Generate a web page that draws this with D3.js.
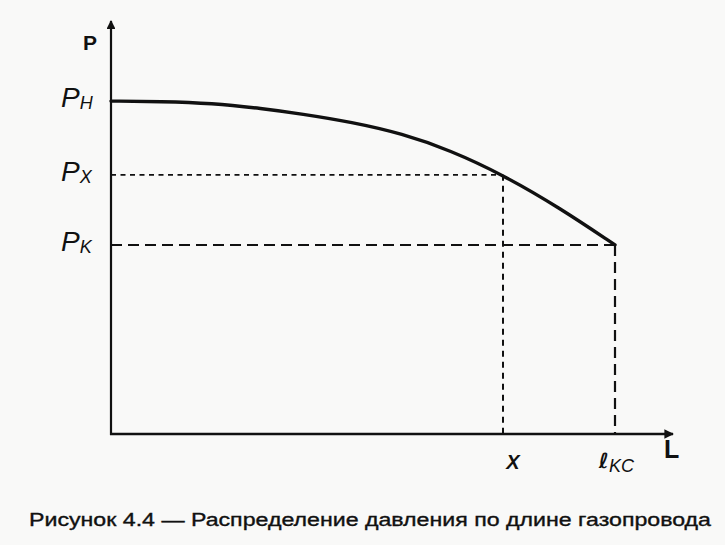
<!DOCTYPE html>
<html><head><meta charset="utf-8">
<script src="https://cdn.jsdelivr.net/npm/d3@7/dist/d3.min.js"></script>
<style>
html,body{margin:0;padding:0;background:#f9f9f8;}
svg{display:block;}
</style></head>
<body>
<script>
// Data (arbitrary units: length 0..100, pressure 0..100)
const lengths   = [0, 9, 18, 27, 34, 43, 52, 60.5, 70, 80, 90];
const pressures = [80.8, 80.7, 80.3, 79.0, 77.7, 75.7, 72.9, 68.9, 62.9, 55.0, 45.9];
const pH = 80.8, pX = 62.9, pK = 45.9;
const xMark = 70, lKC = 90;
const yLabels = [{v: pH, main: "P", sub: "H"}, {v: pX, main: "P", sub: "X"}, {v: pK, main: "P", sub: "K"}];
const caption = "Рисунок 4.4 — Распределение давления по длине газопровода";

const W = 725, H = 545;
const svg = d3.select("body").append("svg").attr("width", W).attr("height", H);
const x = d3.scaleLinear().domain([0, 100]).range([111, 671]);
const y = d3.scaleLinear().domain([0, 100]).range([434, 22]);

const defs = svg.append("defs");
defs.append("marker").attr("id", "arr").attr("viewBox", "0 0 10 10")
  .attr("refX", 9).attr("refY", 5).attr("markerWidth", 4.5).attr("markerHeight", 4)
  .attr("markerUnits", "strokeWidth").attr("orient", "auto")
  .append("path").attr("d", "M0,0 L10,5 L0,10 Z").attr("fill", "#111");

const ink = "#111";
// dashed guides
svg.append("line").attr("x1", x(0)).attr("x2", x(xMark)).attr("y1", y(pX)).attr("y2", y(pX))
  .attr("stroke", ink).attr("stroke-width", 1.8).attr("stroke-dasharray", "5,4.5");
svg.append("line").attr("x1", x(0)).attr("x2", x(lKC)).attr("y1", y(pK)).attr("y2", y(pK))
  .attr("stroke", ink).attr("stroke-width", 2).attr("stroke-dasharray", "11,6");
svg.append("line").attr("x1", x(xMark)).attr("x2", x(xMark)).attr("y1", y(pX)).attr("y2", y(0))
  .attr("stroke", ink).attr("stroke-width", 2).attr("stroke-dasharray", "6,5");
svg.append("line").attr("x1", x(lKC)).attr("x2", x(lKC)).attr("y1", y(pK)).attr("y2", y(0))
  .attr("stroke", ink).attr("stroke-width", 2.2).attr("stroke-dasharray", "11,6");

// axes
svg.append("line").attr("x1", x(0)).attr("x2", x(0)).attr("y1", y(0) + 1).attr("y2", y(100) - 1)
  .attr("stroke", ink).attr("stroke-width", 2.2).attr("marker-end", "url(#arr)");
svg.append("line").attr("x1", x(0) - 1).attr("x2", x(100) + 2).attr("y1", y(0)).attr("y2", y(0))
  .attr("stroke", ink).attr("stroke-width", 2.4).attr("marker-end", "url(#arr)");

// curve
const pts = lengths.map((l, i) => [l, pressures[i]]);
svg.append("path").datum(pts)
  .attr("d", d3.line().x(d => x(d[0])).y(d => y(d[1])).curve(d3.curveBasis))
  .attr("fill", "none").attr("stroke", ink).attr("stroke-width", 3.4).attr("stroke-linecap", "round");

const font = "'Liberation Sans', Arial, sans-serif";
// axis titles
svg.append("text").attr("x", 83).attr("y", 50).attr("font-family", font).attr("font-weight", "bold")
  .attr("font-size", 21).attr("fill", ink).text("P");
svg.append("text").attr("x", 664).attr("y", 458).attr("font-family", font).attr("font-weight", "bold")
  .attr("font-size", 25).attr("fill", ink).text("L");

// y labels
yLabels.forEach(d => {
  const t = svg.append("text").attr("x", 61).attr("y", y(d.v) + 6).attr("font-family", font)
    .attr("font-style", "italic").attr("fill", ink);
  t.append("tspan").attr("font-size", 28).text(d.main);
  t.append("tspan").attr("font-size", 18).attr("dy", 2).attr("dx", 0).text(d.sub);
});

// x labels
svg.append("text").attr("x", x(xMark) + 10).attr("y", 469).attr("text-anchor", "middle")
  .attr("font-family", font).attr("font-style", "italic").attr("font-weight", "bold")
  .attr("font-size", 20).attr("fill", ink).text("X");
const lt = svg.append("text").attr("x", 599).attr("y", 468).attr("font-family", "'DejaVu Sans', sans-serif")
  .attr("font-style", "italic").attr("font-weight", "bold").attr("fill", ink);
lt.append("tspan").attr("font-size", 21).text("ℓ");
lt.append("tspan").attr("font-size", 18).attr("font-family", font).attr("font-weight", "normal").attr("dy", 4).attr("dx", 0).text("KC");

// caption
svg.append("text").attr("x", 29).attr("y", 526).attr("font-family", font)
  .attr("font-size", 18).attr("fill", ink).attr("stroke", ink).attr("stroke-width", 0.35)
  .attr("textLength", 682).attr("lengthAdjust", "spacingAndGlyphs").text(caption);
</script>
</body></html>
